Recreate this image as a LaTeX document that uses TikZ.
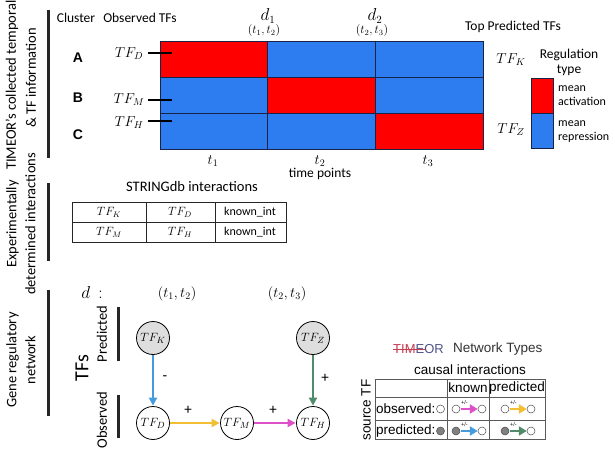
\documentclass[tikz,border=0pt]{standalone}
\usepackage{fontspec}
\setmainfont{Carlito}
\newfontfamily\arialf{Liberation Sans}
\usetikzlibrary{arrows.meta}
\definecolor{hred}{RGB}{255,0,0}
\definecolor{hblue}{RGB}{45,125,240}
\definecolor{hline}{RGB}{25,35,70}
\definecolor{eblue}{RGB}{70,155,220}
\definecolor{egreen}{RGB}{80,140,105}
\definecolor{eyellow}{RGB}{242,190,50}
\definecolor{emag}{RGB}{222,80,200}
\definecolor{ngray}{RGB}{222,222,222}
\definecolor{tgrid}{RGB}{90,90,90}
\definecolor{tred}{RGB}{200,60,80}
\definecolor{tnavy}{RGB}{80,85,140}
\tikzset{
  side/.style={rotate=90, align=center, inner sep=0, font=\fontsize{14.5}{19}\selectfont},
  hdr/.style={inner sep=0, font=\fontsize{13.5}{16}\selectfont},
  clab/.style={inner sep=0, font=\arialf\bfseries\fontsize{14}{16}\selectfont},
  tfm/.style={inner sep=0, font=\fontsize{14}{16}\selectfont},
  sbar/.style={line width=3pt, black!85},
  tick/.style={line width=2.5pt, black},
  gridl/.style={hline, line width=1pt},
  tfnode/.style={circle, draw=black, line width=0.8pt, minimum size=33pt, inner sep=0, font=\fontsize{13}{14}\selectfont},
  earr/.style={line width=2.5pt, -{Triangle[length=8pt,width=8pt]}, shorten >=0.5pt},
  elab/.style={inner sep=0, font=\fontsize{15}{16}\selectfont},
  ntxt/.style={inner sep=0, font=\arialf\fontsize{13.5}{15}\selectfont},
  pics/netic/.style 2 args={code={
    \draw[gray!60!black, line width=0.5pt, fill=#1] (-12,0) circle (4);
    \draw[gray!60!black, line width=0.5pt, fill=white] (14,0) circle (4);
    \draw[#2, line width=2.5pt, -{Triangle[length=8pt,width=9pt]}] (-7.5,0) -- (9.8,0);
    \node[inner sep=0, font=\arialf\fontsize{5.5}{6}\selectfont] at (-3.5,-6) {+/-};
  }}
}
\begin{document}
\begin{tikzpicture}[x=1pt,y=-1pt]
\useasboundingbox (0,0) rectangle (615,449);
\fill[white] (0,0) rectangle (615,449);

% ---- side labels and bars
\node[rotate=90, anchor=west, inner sep=0, font=\fontsize{14.5}{17}\selectfont] (s1a) at (12,170) {TIMEOR's collected temporal};
\node[side] (s1b) at (31,78) {\& TF information};
\node[side] (s2) at (21,224) {Experimentally\\ determined interactions};
\node[side] (s3) at (21,360) {Gene regulatory\\ network};
\draw[sbar] (48,10) -- (48,158);
\draw[sbar] (48,183) -- (48,261);
\draw[sbar] (48,290) -- (48,416);

% ---- headers
\node[hdr] (hcl) at (76,18) {Cluster};
\node[hdr] (hob) at (140,18) {Observed TFs};
\node[hdr] (htop) at (513,27) {Top Predicted TFs};
\node[inner sep=0, font=\fontsize{16}{18}\selectfont] (d1) at (268,16) {$d_1$};
\node[inner sep=0, font=\fontsize{12}{14}\selectfont] (d1t) at (264,31) {$(t_1,t_2)$};
\node[inner sep=0, font=\fontsize{16}{18}\selectfont] (d2) at (375,16) {$d_2$};
\node[inner sep=0, font=\fontsize{12}{14}\selectfont] (d2t) at (372,31) {$(t_2,t_3)$};

% ---- heatmap
\fill[hred]  (160,42) rectangle (267,78);
\fill[hblue] (267,42) rectangle (483,78);
\fill[hblue] (160,78) rectangle (267,114);
\fill[hred]  (267,78) rectangle (375,114);
\fill[hblue] (375,78) rectangle (483,114);
\fill[hblue] (160,114) rectangle (375,150);
\fill[hred]  (375,114) rectangle (483,150);
\draw[gridl] (160,42) rectangle (483,150);
\draw[gridl] (160,78) -- (483,78) (160,114) -- (483,114) (267,42) -- (267,150) (375,42) -- (375,150);

% cluster letters and TFs
\node[clab] (cA) at (78,58) {A};
\node[clab] (cB) at (78,98) {B};
\node[clab] (cC) at (78,135) {C};
\node[tfm] (tD) at (129,54) {$TF_D$};
\node[tfm] (tM) at (129,100) {$TF_M$};
\node[tfm] (tH) at (129,123) {$TF_H$};
\coordinate (eD) at (172,53);
\coordinate (eM) at (172,100);
\coordinate (eH) at (172,121);
\draw[tick] (148,53) -- (eD);
\draw[tick] (148,100) -- (eM);
\draw[tick] (148,121) -- (eH);

% time labels
\node[tfm] (t1) at (213,161) {$t_1$};
\node[tfm] (t2) at (320,161) {$t_2$};
\node[tfm] (t3) at (428,161) {$t_3$};
\node[hdr] (tp) at (320,174) {time points};

% predicted TFs
\node[tfm] (pK) at (511,60) {$TF_K$};
\node[tfm] (pZ) at (511,130) {$TF_Z$};

% legend
\node[hdr, align=center, font=\fontsize{13.5}{15}\selectfont] (leg) at (569,62) {Regulation\\type};
\fill[hred] (531,79) rectangle (553,114);
\fill[hblue] (531,114) rectangle (553,149);
\draw[gridl] (531,79) rectangle (553,149) (531,114) -- (553,114);
\node[anchor=west, align=left, inner sep=0, font=\fontsize{12}{14}\selectfont] (la) at (558,96) {mean\\activation};
\node[anchor=west, align=left, inner sep=0, font=\fontsize{12}{14}\selectfont] (lr) at (558,132) {mean\\repression};

% ---- STRINGdb
\node[inner sep=0, font=\fontsize{14.5}{16}\selectfont] (sdb) at (192,187) {STRINGdb interactions};
\draw[black!85, line width=0.8pt] (72,202) rectangle (286,242) (72,222) -- (286,222) (146,202) -- (146,242) (215,202) -- (215,242);
\node[inner sep=0, font=\fontsize{12}{14}\selectfont] (s11) at (109,212) {$TF_K$};
\node[inner sep=0, font=\fontsize{12}{14}\selectfont] (s12) at (180,212) {$TF_D$};
\node[inner sep=0, font=\fontsize{12}{14}\selectfont] (s13) at (250,212) {known\_int};
\node[inner sep=0, font=\fontsize{12}{14}\selectfont] (s21) at (109,232) {$TF_M$};
\node[inner sep=0, font=\fontsize{12}{14}\selectfont] (s22) at (180,232) {$TF_H$};
\node[inner sep=0, font=\fontsize{12}{14}\selectfont] (s23) at (250,232) {known\_int};

% ---- gene regulatory network
\node[inner sep=0, font=\fontsize{18}{20}\selectfont] (dd) at (92,292) {$d\ \ \colon$};
\node[inner sep=0, font=\fontsize{14.5}{16}\selectfont] (nt1) at (177,294) {$(t_1,t_2)$};
\node[inner sep=0, font=\fontsize{14.5}{16}\selectfont] (nt2) at (287,294) {$(t_2,t_3)$};
\node[rotate=90, inner sep=0, font=\fontsize{20}{22}\selectfont] (tfs) at (82,368) {TFs};
\node[rotate=90, inner sep=0, font=\fontsize{14.5}{16}\selectfont] (lpred) at (102,334) {Predicted};
\node[rotate=90, inner sep=0, font=\fontsize{14.5}{16}\selectfont] (lobs) at (102,420) {Observed};
\draw[sbar] (118,307) -- (118,361);
\draw[sbar] (118,395) -- (118,438);

\node[tfnode, fill=ngray] (K) at (153,338) {$TF_K$};
\node[tfnode, fill=ngray] (Z) at (313,338) {$TF_Z$};
\node[tfnode, fill=white] (D) at (153,423) {$TF_D$};
\node[tfnode, fill=white] (M) at (237,423) {$TF_M$};
\node[tfnode, fill=white] (H) at (313,423) {$TF_H$};
\draw[earr, eblue] (K) -- (D);
\draw[earr, egreen] (Z) -- (H);
\draw[earr, eyellow] (D) -- (M);
\draw[earr, emag] (M) -- (H);
\node[elab] (lKD) at (165,378) {-};
\node[elab] (lZH) at (325,378) {+};
\node[elab] (lDM) at (188,410) {+};
\node[elab] (lMH) at (273,410) {+};

% ---- network types
\node[inner sep=0, anchor=west, font=\arialf\fontsize{13}{14}\selectfont] (tlogo) at (393,349) {\textcolor{tred}{TIM}\textcolor{tnavy}{EOR}};
\draw[tred, line width=0.7pt] (393,349) -- (425,349);
\node[inner sep=0, anchor=west, font=\arialf\fontsize{13.5}{15}\selectfont, black!80] (ntyp) at (453,349) {Network Types};
\node[ntxt] (caus) at (470,370) {causal interactions};
\draw[tgrid, line width=0.8pt] (375,379) rectangle (545,439) (375,397) -- (545,397) (375,420) -- (545,420) (447,379) -- (447,439) (489,379) -- (489,439);
\node[ntxt] (hk) at (468,388) {known};
\node[ntxt] (hp) at (517,388) {predicted};
\node[ntxt, anchor=west] (robs) at (376,409) {observed:};
\node[ntxt, anchor=west] (rpred) at (376,431) {predicted:};
\draw[gray!60!black, line width=0.5pt, fill=white] (440.5,409) circle (4);
\draw[gray!60!black, line width=0.5pt, fill=gray] (440.5,431) circle (4);
\node[rotate=90, ntxt] (src) at (366,410) {source TF};
\pic at (468,409) {netic={white}{emag}};
\pic at (517,409) {netic={white}{eyellow}};
\pic at (468,431) {netic={gray}{eblue}};
\pic at (517,431) {netic={gray}{egreen}};
\end{tikzpicture}
\end{document}
